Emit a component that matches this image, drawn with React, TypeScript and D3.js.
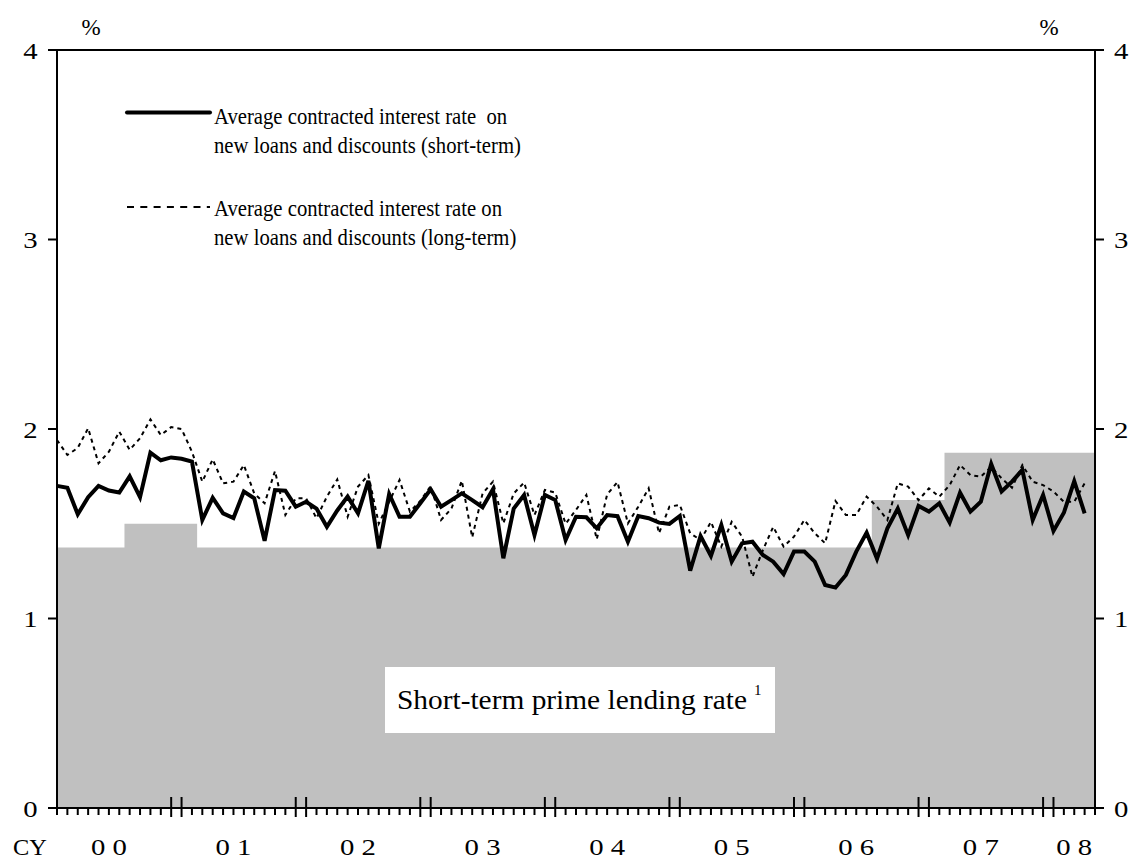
import React from "react";
import * as d3 from "d3";

// Monthly data, Jan 2000 (index 0) onward
const shortTermRate = [
  1.70, 1.69, 1.55, 1.64, 1.70, 1.675, 1.665, 1.75, 1.64, 1.875, 1.835, 1.85,
  1.843, 1.828, 1.52, 1.637, 1.555, 1.53, 1.67, 1.634, 1.41, 1.678, 1.674, 1.59,
  1.616, 1.58, 1.484, 1.57, 1.643, 1.555, 1.727, 1.37, 1.657, 1.537, 1.537, 1.608,
  1.682, 1.59, 1.625, 1.66, 1.625, 1.587, 1.682, 1.318, 1.58, 1.652, 1.44, 1.652,
  1.625, 1.414, 1.537, 1.534, 1.476, 1.546, 1.54, 1.405, 1.541, 1.529, 1.506, 1.499,
  1.541, 1.252, 1.435, 1.33, 1.493, 1.30, 1.397, 1.405, 1.335, 1.30, 1.235, 1.353,
  1.353, 1.30, 1.177, 1.163, 1.23, 1.353, 1.453, 1.315, 1.476, 1.58, 1.44, 1.594,
  1.564, 1.608, 1.506, 1.664, 1.564, 1.616, 1.815, 1.67, 1.722, 1.784, 1.52, 1.652,
  1.462, 1.558, 1.725, 1.555,
];

const longTermRate = [
  1.942, 1.863, 1.90, 2.004, 1.819, 1.88, 1.986, 1.89, 1.951, 2.051, 1.968, 2.01,
  2.00, 1.88, 1.722, 1.84, 1.713, 1.722, 1.81, 1.66, 1.608, 1.778, 1.546, 1.634,
  1.634, 1.529, 1.643, 1.734, 1.537, 1.696, 1.757, 1.50, 1.616, 1.731, 1.564, 1.62,
  1.699, 1.52, 1.58, 1.727, 1.428, 1.66, 1.722, 1.502, 1.66, 1.717, 1.546, 1.678,
  1.664, 1.50, 1.573, 1.652, 1.418, 1.655, 1.72, 1.502, 1.59, 1.687, 1.45, 1.59,
  1.60, 1.45, 1.414, 1.51, 1.379, 1.51, 1.432, 1.22, 1.36, 1.484, 1.379, 1.432,
  1.52, 1.45, 1.397, 1.62, 1.546, 1.546, 1.643, 1.59, 1.52, 1.713, 1.696, 1.625,
  1.687, 1.643, 1.704, 1.81, 1.757, 1.748, 1.80, 1.74, 1.69, 1.81, 1.722, 1.704,
  1.67, 1.616, 1.616, 1.713,
];

const primeRate = [
  1.375, 1.375, 1.375, 1.375, 1.375, 1.375, 1.375, 1.5, 1.5, 1.5, 1.5, 1.5,
  1.5, 1.5, 1.375, 1.375, 1.375, 1.375, 1.375, 1.375, 1.375, 1.375, 1.375, 1.375,
  1.375, 1.375, 1.375, 1.375, 1.375, 1.375, 1.375, 1.375, 1.375, 1.375, 1.375, 1.375,
  1.375, 1.375, 1.375, 1.375, 1.375, 1.375, 1.375, 1.375, 1.375, 1.375, 1.375, 1.375,
  1.375, 1.375, 1.375, 1.375, 1.375, 1.375, 1.375, 1.375, 1.375, 1.375, 1.375, 1.375,
  1.375, 1.375, 1.375, 1.375, 1.375, 1.375, 1.375, 1.375, 1.375, 1.375, 1.375, 1.375,
  1.375, 1.375, 1.375, 1.375, 1.375, 1.375, 1.375, 1.625, 1.625, 1.625, 1.625, 1.625,
  1.625, 1.625, 1.875, 1.875, 1.875, 1.875, 1.875, 1.875, 1.875, 1.875, 1.875, 1.875,
  1.875, 1.875, 1.875, 1.875, 1.875,
];

const yearLabels = ["0 0", "0 1", "0 2", "0 3", "0 4", "0 5", "0 6", "0 7", "0 8"];
const yTicks = [0, 1, 2, 3, 4];

const FONT = "'Liberation Serif', 'Times New Roman', serif";

function SText(props: {
  x: number;
  y: number;
  sx?: number;
  size: number;
  anchor?: "start" | "middle" | "end";
  children: React.ReactNode;
}) {
  const { x, y, sx = 1, size, anchor = "start", children } = props;
  return (
    <text
      transform={`translate(${x},${y}) scale(${sx},1)`}
      fontSize={size}
      textAnchor={anchor}
    >
      {children}
    </text>
  );
}

export default function App() {
  const W = 1132;
  const H = 860;
  const left = 57;
  const right = 1095;
  const top = 50;
  const bottom = 808;
  const nMonths = primeRate.length; // axis runs to May 2008

  const x = d3.scaleLinear().domain([0, nMonths - 1]).range([left, right]);
  const y = d3.scaleLinear().domain([0, 4]).range([bottom, top]);

  const area = d3
    .area<number>()
    .x((_, i) => x(i))
    .y0(y(0))
    .y1((d) => y(d))
    .curve(d3.curveStep);

  const line = d3
    .line<number>()
    .x((_, i) => x(i))
    .y((d) => y(d));

  const monthIdx = d3.range(nMonths);
  const DIG = 1.25;

  return (
    <svg
      width={W}
      height={H}
      style={{ position: "absolute", left: 0, top: 0, background: "#fff" }}
      fontFamily={FONT}
    >
      <rect x={0} y={0} width={W} height={H} fill="#fff" />
      <path d={area(primeRate) || ""} fill="#c0c0c0" stroke="none" />

      <path
        d={line(longTermRate) || ""}
        fill="none"
        stroke="#000"
        strokeWidth={2}
        strokeDasharray="4,4"
      />
      <path
        d={line(shortTermRate) || ""}
        fill="none"
        stroke="#000"
        strokeWidth={4}
        strokeLinejoin="miter"
      />

      {/* frame */}
      <line x1={left} x2={left} y1={top} y2={bottom} stroke="#000" strokeWidth={2} />
      <line x1={right} x2={right} y1={top} y2={bottom} stroke="#000" strokeWidth={2} />
      <line x1={left - 9} x2={right + 9} y1={top} y2={top} stroke="#000" strokeWidth={2} />
      <line x1={left - 9} x2={right + 9} y1={bottom} y2={bottom} stroke="#000" strokeWidth={2} />

      {yTicks.map((t) => (
        <g key={t}>
          <line x1={left - 9} x2={left} y1={y(t)} y2={y(t)} stroke="#000" strokeWidth={2} />
          <line x1={right} x2={right + 9} y1={y(t)} y2={y(t)} stroke="#000" strokeWidth={2} />
          <SText x={37.5} y={y(t) + 8.5} sx={DIG} size={23} anchor="end">
            {t}
          </SText>
          <SText x={1114} y={y(t) + 8.5} sx={DIG} size={23}>
            {t}
          </SText>
        </g>
      ))}
      <SText x={91} y={35} size={23} anchor="middle">%</SText>
      <SText x={1049} y={35} size={23} anchor="middle">%</SText>

      {monthIdx.map((i) => {
        const m = i % 12;
        const tall = m === 11 || (m === 0 && i > 0);
        return (
          <line
            key={i}
            x1={x(i)}
            x2={x(i)}
            y1={tall ? 797 : bottom}
            y2={tall ? 817 : 815}
            stroke="#000"
            strokeWidth={2}
          />
        );
      })}
      <SText x={30} y={855} sx={1.06} size={23} anchor="middle">CY</SText>
      {yearLabels.map((lab, k) => (
        <SText
          key={lab}
          x={x(Math.min(5 + 12 * k, nMonths - 3))}
          y={855}
          sx={DIG}
          size={23}
          anchor="middle"
        >
          {lab}
        </SText>
      ))}

      {/* legend */}
      <line x1={127} x2={210} y1={112.5} y2={112.5} stroke="#000" strokeWidth={4} strokeLinecap="round" />
      <SText x={214} y={124} sx={0.9} size={23}>
        Average contracted interest rate{"\u00A0\u00A0"}on
      </SText>
      <SText x={214} y={153} sx={0.9} size={23}>
        new loans and discounts (short-term)
      </SText>
      <line x1={127} x2={210} y1={207} y2={207} stroke="#000" strokeWidth={2} strokeDasharray="7,6.3" />
      <SText x={214} y={216} sx={0.9} size={23}>
        Average contracted interest rate on
      </SText>
      <SText x={214} y={245} sx={0.9} size={23}>
        new loans and discounts (long-term)
      </SText>

      {/* prime label */}
      <rect x={385} y={667} width={390} height={66} fill="#fff" />
      <SText x={397} y={709} sx={1.05} size={28}>
        Short-term prime lending rate
      </SText>
      <SText x={754} y={695} size={15}>1</SText>
    </svg>
  );
}
